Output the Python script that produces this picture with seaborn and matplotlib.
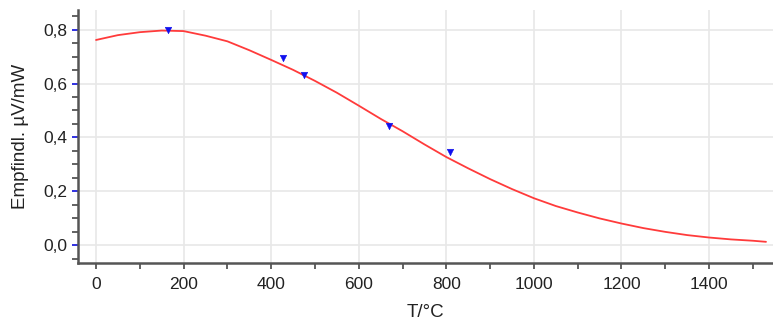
import matplotlib
matplotlib.use("Agg")
import matplotlib.pyplot as plt
import seaborn as sns
import pandas as pd
from matplotlib.ticker import MultipleLocator, FuncFormatter

# Fitted curve (red)
curve_T = [0, 50, 100, 150, 200, 250, 300, 350, 400, 450, 500, 550, 600, 650, 700, 750,
           800, 850, 900, 950, 1000, 1050, 1100, 1150, 1200, 1250, 1300, 1350, 1400, 1450, 1500, 1530]
curve_S = [0.762, 0.780, 0.791, 0.797, 0.795, 0.778, 0.757, 0.724, 0.688, 0.651, 0.610, 0.566,
           0.518, 0.469, 0.423, 0.374, 0.327, 0.285, 0.245, 0.208, 0.174, 0.145, 0.121, 0.099,
           0.080, 0.063, 0.049, 0.037, 0.028, 0.021, 0.016, 0.012]

# Measured points (blue)
meas_T = [164, 426, 475, 668, 808]
meas_S = [0.800, 0.695, 0.631, 0.442, 0.344]

sns.set_theme(style="whitegrid")
plt.rcParams['font.family'] = ['Liberation Sans', 'DejaVu Sans']

fig = plt.figure(figsize=(7.73, 3.26), dpi=100)
ax = fig.add_axes([0.101, 0.193, 0.899, 0.776])

dfc = pd.DataFrame({"T": curve_T, "S": curve_S})
dfm = pd.DataFrame({"T": meas_T, "S": meas_S})
sns.lineplot(data=dfc, x="T", y="S", ax=ax, color="#ff3b3b", linewidth=1.3)
sns.scatterplot(data=dfm, x="T", y="S", ax=ax, color="#1010ee", marker="v", s=22,
                edgecolor="#1010ee", zorder=3)

ax.set_xlim(-41, 1546)
ax.set_ylim(-0.067, 0.873)
ax.xaxis.set_major_locator(MultipleLocator(200))
ax.xaxis.set_minor_locator(MultipleLocator(100))
ax.yaxis.set_major_locator(MultipleLocator(0.2))
ax.yaxis.set_minor_locator(MultipleLocator(0.05))
ax.yaxis.set_major_formatter(FuncFormatter(lambda v, p: f"{v:.1f}".replace(".", ",")))

ax.grid(True, which="major", color="#e8e8e8", linewidth=1.2)
ax.grid(False, which="minor")
for s in ["top", "right"]:
    ax.spines[s].set_visible(False)
for s in ["left", "bottom"]:
    ax.spines[s].set_visible(True)
    ax.spines[s].set_color("#555555")
    ax.spines[s].set_linewidth(1.8)

ax.tick_params(axis="x", which="both", bottom=True, direction="out", length=4, width=1.3,
               color="#555555", labelsize=12.5, labelcolor="#222222", pad=6)
ax.tick_params(axis="y", which="major", left=True, direction="out", length=4, width=1.3,
               color="#2020dd", labelsize=12.5, labelcolor="#222222", pad=4)
ax.tick_params(axis="y", which="minor", left=True, direction="out", length=4, width=1.3,
               color="#555555")

ax.set_xlabel("T/°C", fontsize=13.5, color="#222222", labelpad=9)
ax.set_ylabel("Empfindl. µV/mW", fontsize=13.5, color="#222222", labelpad=10)

fig.savefig("out.png", dpi=100)
